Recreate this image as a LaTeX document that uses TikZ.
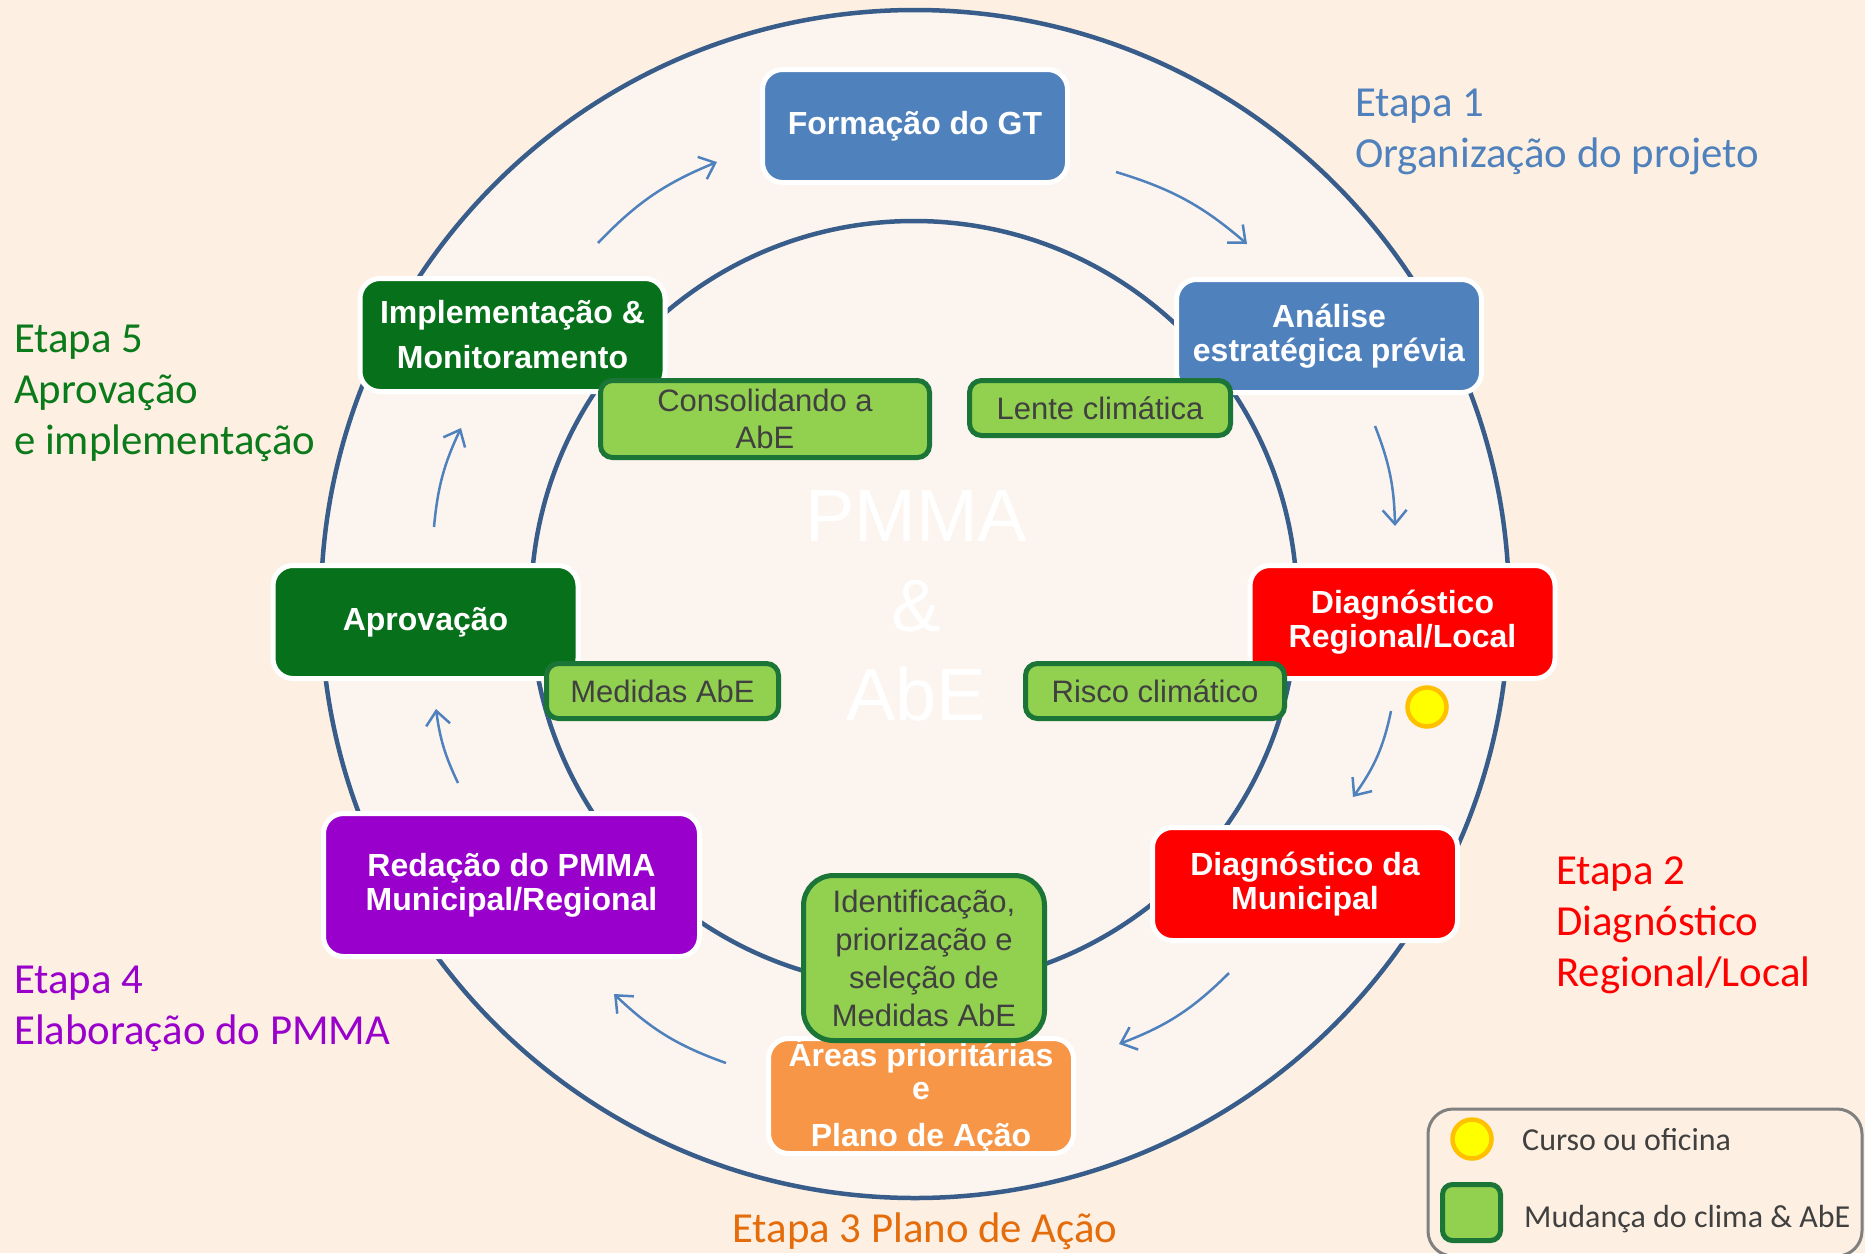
\documentclass[tikz,border=0pt]{standalone}
\usepackage{fontspec}
\setmainfont{Liberation Sans}
\newfontfamily\calibrifont{Carlito}
\usetikzlibrary{arrows.meta}
\definecolor{bgout}{HTML}{FDEFE1}
\definecolor{disk}{HTML}{FCF5EF}
\definecolor{ring}{HTML}{385D8A}
\definecolor{arrblue}{HTML}{4F81BD}
\definecolor{boxblue}{HTML}{4F81BD}
\definecolor{boxred}{HTML}{FF0000}
\definecolor{dkgreen}{HTML}{06701A}
\definecolor{boxpurple}{HTML}{9900CC}
\definecolor{boxorange}{HTML}{F79646}
\definecolor{lgreen}{HTML}{92D050}
\definecolor{gborder}{HTML}{1B7536}
\definecolor{tgray}{HTML}{404040}
\definecolor{lgray}{HTML}{808080}
\definecolor{etorange}{HTML}{E46C0A}
\definecolor{etgreen}{HTML}{0B7A1B}
\definecolor{dotyellow}{HTML}{FFFF00}
\definecolor{dotrim}{HTML}{FFC000}
\begin{document}
\begin{tikzpicture}[x=1pt,y=-1pt,
  mainbox/.style={rectangle, draw=white, line width=5pt, rounded corners=20pt,
    minimum width=305pt, minimum height=113pt, inner sep=0pt, align=center,
    text=white, font=\bfseries\fontsize{32}{34}\selectfont},
  greenbox/.style={rectangle, draw=gborder, fill=lgreen, line width=5pt,
    rounded corners=12pt, inner sep=0pt, align=center, text=tgray,
    font=\fontsize{31}{37}\selectfont},
  arr/.style={draw=arrblue, line width=2.5pt, -{Straight Barb[length=14pt,width=24pt]}},
  stage/.style={anchor=north west, inner sep=0pt, align=left,
    font=\calibrifont\fontsize{42.8}{51}\selectfont},
  dotnode/.style={circle, fill=dotyellow, draw=dotrim, line width=4.5pt,
    minimum size=39pt, inner sep=0pt},
  legtext/.style={anchor=base west, inner sep=0pt, text=tgray,
    font=\calibrifont\fontsize{32}{38}\selectfont}
]
\useasboundingbox (0,0) rectangle (1865,1253);
\fill[bgout] (0,0) rectangle (1865,1253);

% rings
\node[circle, draw=ring, fill=disk, line width=4.5pt, minimum size=1188pt, inner sep=0pt] (outer) at (915,604) {};
\node[circle, draw=ring, line width=4.5pt, minimum size=766pt, inner sep=0pt] (inner) at (914,604) {};

% watermark
\node[inner sep=0pt, align=center, text=white, font=\fontsize{74}{89.5}\selectfont] (pmma) at (916,606) {PMMA\\\&\\AbE};

% arrows
\coordinate (a1s) at (598,243);  \coordinate (a1e) at (717,162);
\coordinate (a2s) at (1116,172); \coordinate (a2e) at (1247,244);
\coordinate (a3s) at (1375,426); \coordinate (a3e) at (1395,526);
\coordinate (a4s) at (1391,711); \coordinate (a4e) at (1353,797);
\coordinate (a5s) at (1229,973); \coordinate (a5e) at (1119,1044);
\coordinate (a6s) at (726,1063); \coordinate (a6e) at (614,994);
\coordinate (a7s) at (458,783);  \coordinate (a7e) at (436,709);
\coordinate (a8s) at (434,527);  \coordinate (a8e) at (461,428);
\draw[arr] (a1s) to[bend left=12] (a1e);
\draw[arr] (a2s) to[bend left=12] (a2e);
\draw[arr] (a3s) to[bend left=10] (a3e);
\draw[arr] (a4s) to[bend left=12] (a4e);
\draw[arr] (a5s) to[bend left=12] (a5e);
\draw[arr] (a6s) to[bend left=12] (a6e);
\draw[arr] (a7s) to[bend left=9] (a7e);
\draw[arr] (a8s) to[bend left=10] (a8e);

% main boxes
\node[mainbox, fill=boxblue] (gt) at (915,126) {Formação do GT};
\node[mainbox, fill=boxblue] (analise) at (1329,336) {Análise\\estratégica prévia};
\node[mainbox, fill=boxred] (diagreg) at (1402.5,622) {Diagnóstico\\Regional/Local};
\node[mainbox, fill=boxred] (diagmun) at (1305,884) {Diagnóstico da\\Municipal};
\node[mainbox, fill=boxorange, font=\bfseries\fontsize{32}{33}\selectfont] (areas) at (921,1096) {Áreas prioritárias\\e\\[14pt]Plano de Ação};
\node[mainbox, fill=boxpurple, minimum width=376pt, minimum height=143pt] (redacao) at (511.5,885) {Redação do PMMA\\Municipal/Regional};
\node[mainbox, fill=dkgreen] (aprov) at (425.5,622) {Aprovação};
\node[mainbox, fill=dkgreen, font=\bfseries\fontsize{32}{45}\selectfont] (impl) at (512.5,335) {Implementação \&\\Monitoramento};

% climate boxes
\node[greenbox, minimum width=329pt, minimum height=77pt] (consol) at (765,419) {Consolidando a\\AbE};
\node[greenbox, minimum width=261pt, minimum height=55pt] (lente) at (1100,408) {Lente climática};
\node[greenbox, minimum width=232pt, minimum height=55pt] (medidas) at (662.5,691) {Medidas AbE};
\node[greenbox, minimum width=259pt, minimum height=55pt] (risco) at (1155,691) {Risco climático};
\node[greenbox, minimum width=241pt, minimum height=165pt, rounded corners=30pt, font=\fontsize{31}{38}\selectfont] (ident) at (924,958) {Identificação,\\priorização e\\seleção de\\Medidas AbE};

% workshop dot
\node[dotnode] (dot) at (1427,707) {};

% stage labels
\node[stage, text=boxblue] (e1) at (1355,89) {Etapa 1\\Organização do projeto};
\node[stage, text=boxred] (e2) at (1556,857) {Etapa 2\\Diagnóstico\\Regional/Local};
\node[anchor=base, inner sep=0pt, text=etorange, font=\calibrifont\fontsize{42.8}{51}\selectfont] (e3) at (925,1242) {Etapa 3 Plano de Ação};
\node[stage, text=boxpurple] (e4) at (14,966) {Etapa 4\\Elaboração do PMMA};
\node[stage, text=etgreen] (e5) at (14,324.5) {Etapa 5\\Aprovação\\e implementação};

% legend
\node[rectangle, draw=lgray, line width=3pt, rounded corners=25pt, minimum width=434pt, minimum height=147pt, inner sep=0pt] (legend) at (1645,1182.5) {};
\node[dotnode] (ldot) at (1472,1139) {};
\node[greenbox, minimum width=58pt, minimum height=56pt, rounded corners=10pt] (lsq) at (1471.5,1212.5) {};
\node[legtext] (l1) at (1522,1150) {Curso ou oficina};
\node[legtext] (l2) at (1524,1227) {Mudança do clima \& AbE};
\end{tikzpicture}
\end{document}
